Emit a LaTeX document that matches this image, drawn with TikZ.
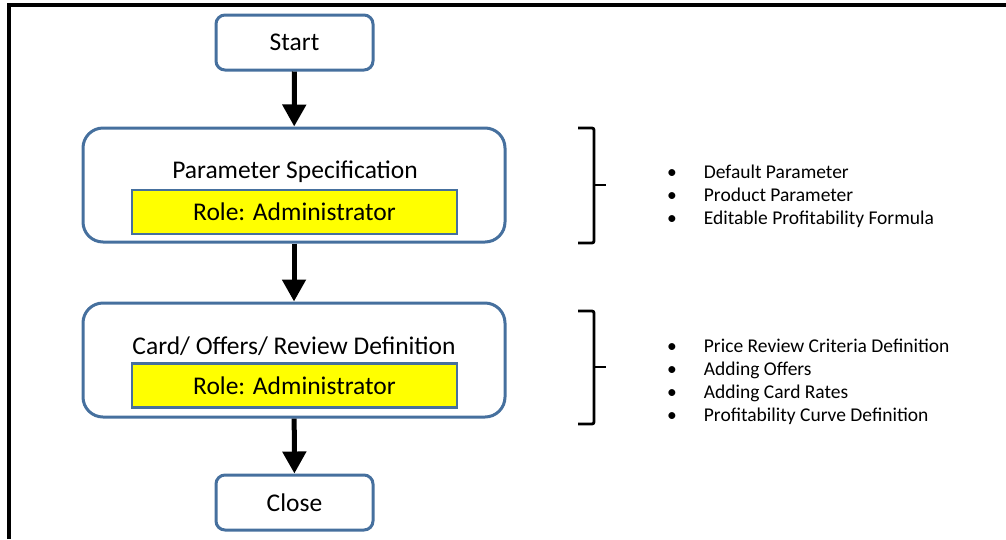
\documentclass[tikz,border=0pt]{standalone}
\usepackage{fontspec}
\setmainfont{Carlito}
\usepackage{tikz}
\usetikzlibrary{arrows.meta,positioning}
\definecolor{boxblue}{RGB}{70,112,158}
\definecolor{roleyellow}{RGB}{255,255,0}

\begin{document}
\begin{tikzpicture}[x=1pt,y=-1pt,
    every node/.style={inner sep=0pt},
    termbox/.style={draw=boxblue,line width=3pt,rounded corners=9pt,
      minimum width=157pt,minimum height=55pt,font=\fontsize{25.5}{30}\selectfont},
    stagebox/.style={draw=boxblue,line width=3pt,rounded corners=20pt,
      minimum width=422pt,minimum height=114pt},
    stagetitle/.style={font=\fontsize{25.5}{30}\selectfont},
    rolebox/.style={draw=boxblue,fill=roleyellow,line width=2.5pt,
      minimum width=325pt,minimum height=44pt,font=\fontsize{25.5}{30}\selectfont},
    flow/.style={line width=5pt,-{Triangle[width=23pt,length=22pt]}},
    bracket/.style={line width=2.8pt,rounded corners=2pt},
    itemlist/.style={anchor=west,font=\fontsize{19.5}{23}\selectfont}]
  \useasboundingbox (0,0) rectangle (1006,539);
  % frame
  \draw [line width=3.5pt] (9,539) -- (9,5) -- (1006,5);
  % flow
  \node [termbox] (start) at (294.5,42.5) {Start};
  \node [stagebox] (param) at (294,185) {};
  \node [stagetitle] (paramtitle) at (295,172) {Parameter Specification};
  \node [rolebox] (paramrole) at (294.5,212) {Role: Administrator};
  \node [stagebox] (card) at (294,360) {};
  \node [stagetitle] (cardtitle) at (294,346) {Card/ Offers/ Review Definition};
  \node [rolebox] (cardrole) at (294.5,385.5) {Role: Administrator};
  \node [termbox] (close) at (294.5,502.5) {Close};
  \draw [flow] (start) -- (param);
  \draw [flow] (param) -- (card);
  \draw [flow] (card) -- (close);
  % brackets
  \draw [bracket] (578,128) -- (594,128) -- (594,243) -- (578,243);
  \draw [bracket] (594,185) -- (606,185);
  \draw [bracket] (578,311) -- (594,311) -- (594,424) -- (578,424);
  \draw [bracket] (594,367) -- (606,367);
  % item lists
  \node [itemlist] (paramitems) at (667,197) {\begin{tabular}{@{}l@{\hspace{27pt}}l@{}}
    \textbullet & Default Parameter\\
    \textbullet & Product Parameter\\
    \textbullet & Editable Profitability Formula
  \end{tabular}};
  \node [itemlist] (carditems) at (667,382.5) {\begin{tabular}{@{}l@{\hspace{27pt}}l@{}}
    \textbullet & Price Review Criteria Definition\\
    \textbullet & Adding Offers\\
    \textbullet & Adding Card Rates\\
    \textbullet & Profitability Curve Definition
  \end{tabular}};
\end{tikzpicture}
\end{document}
